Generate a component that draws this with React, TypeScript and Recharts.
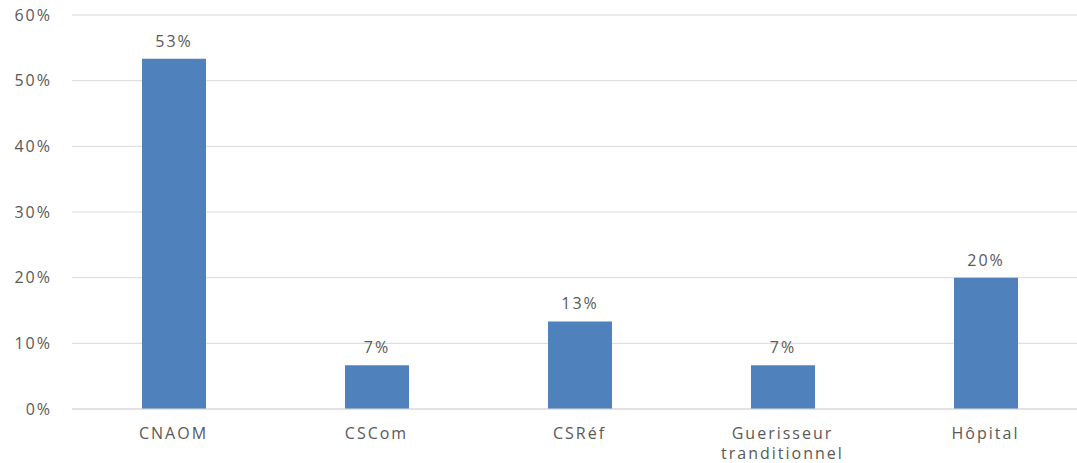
import { BarChart, Bar, XAxis, YAxis, CartesianGrid, LabelList } from 'recharts'

const categories = ['CNAOM', 'CSCom', 'CSRéf', 'Guerisseur tranditionnel', 'Hôpital']
const shares = [53.33, 6.67, 13.33, 6.67, 20]
const yTicks = [0, 10, 20, 30, 40, 50, 60]

const data = categories.map((name, i) => ({ name, value: shares[i] }))

const textColor = '#595959'
const font = '"Open Sans", sans-serif'

function CategoryTick(props: any) {
  const { x, y, payload } = props
  const words: string[] = payload.value.split(' ')
  const lines = payload.value.length > 12 ? words : [payload.value]
  return (
    <text
      x={x}
      y={y + 22}
      textAnchor="middle"
      fill={textColor}
      fontSize={16}
      fontFamily={font}
      letterSpacing={2}
    >
      {lines.map((line, i) => (
        <tspan key={i} x={x} dy={i === 0 ? 0 : 20}>
          {line}
        </tspan>
      ))}
    </text>
  )
}

export default function App() {
  return (
    <div style={{ position: 'absolute', left: 0, top: 0, width: 1077, height: 463, overflow: 'hidden', background: '#fff' }}>
      <BarChart width={1100} height={463} data={data} margin={{ top: 15, right: 13, bottom: 0, left: 0 }}>
        <CartesianGrid vertical={false} stroke="#D9D9D9" />
        <XAxis
          dataKey="name"
          height={54}
          axisLine={{ stroke: '#D9D9D9' }}
          tickLine={false}
          interval={0}
          tick={<CategoryTick />}
        />
        <YAxis
          width={72}
          domain={[0, 60]}
          ticks={yTicks}
          tickFormatter={(v: number) => `${v}%`}
          axisLine={false}
          tickLine={false}
          tickSize={0}
          tickMargin={20}
          tick={{ fill: textColor, fontSize: 16, fontFamily: font, letterSpacing: 2 }}
        />
        <Bar dataKey="value" fill="#4F81BD" barSize={64} isAnimationActive={false}>
          <LabelList
            dataKey="value"
            position="top"
            offset={12}
            formatter={(v: any) => `${Math.round(Number(v))}%`}
            fill={textColor}
            fontSize={16}
            fontFamily={font}
            letterSpacing={2}
          />
        </Bar>
      </BarChart>
    </div>
  )
}
